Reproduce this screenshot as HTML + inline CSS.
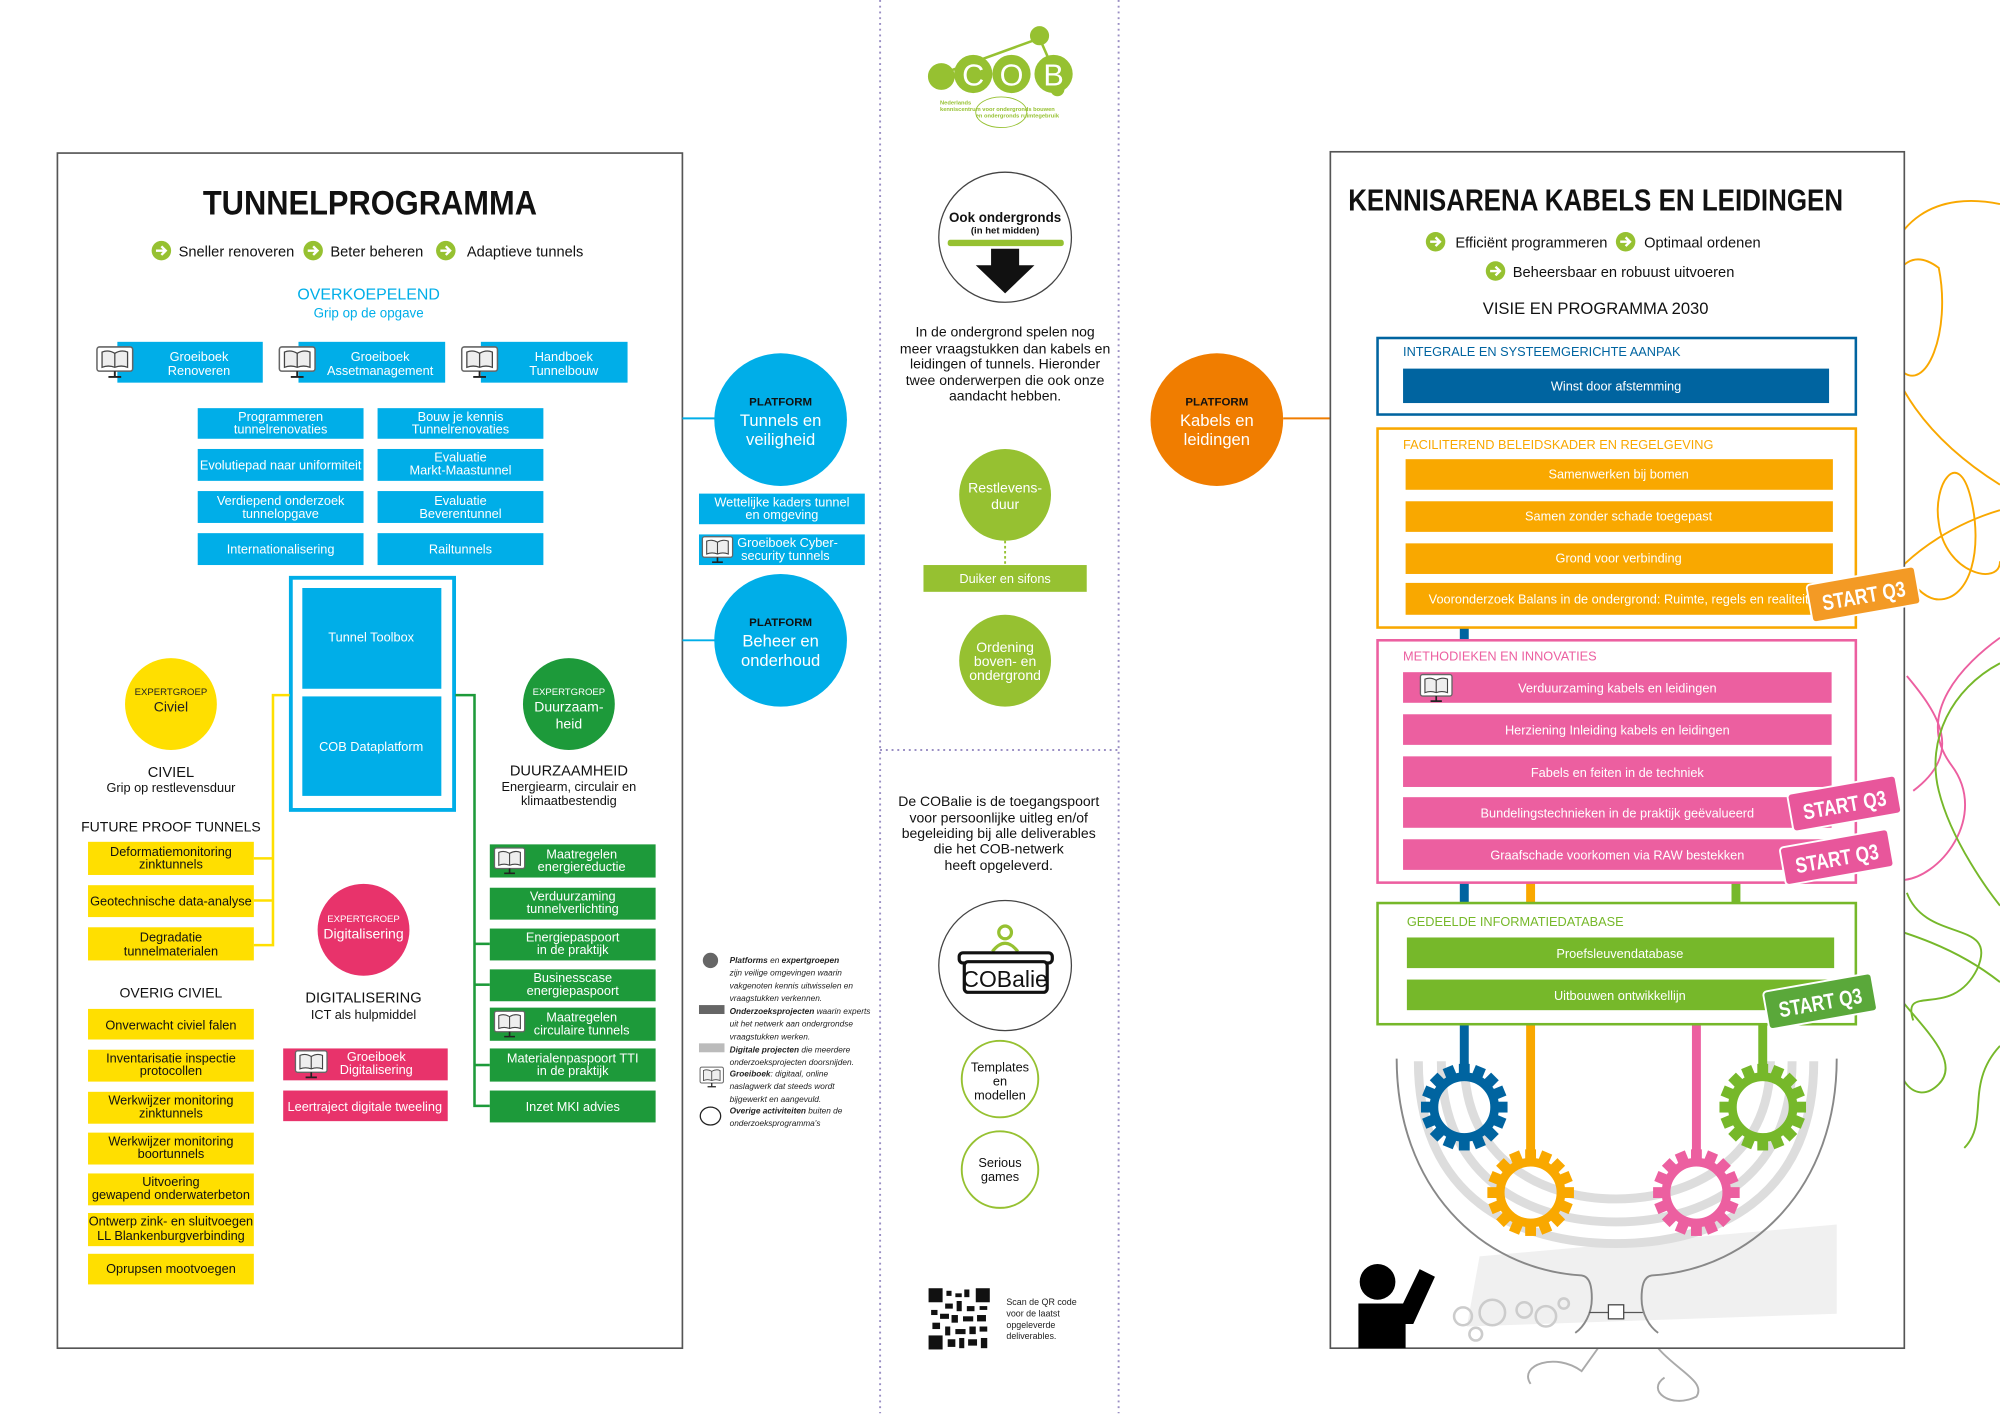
<!DOCTYPE html>
<html><head><meta charset="utf-8"><style>
html,body{margin:0;padding:0;background:#fff;}
svg{display:block;}
text{font-family:"Liberation Sans",sans-serif;}
.w{fill:#fff;font-size:10px;text-anchor:middle;}
.k{fill:#111;font-size:10px;text-anchor:middle;}
</style></head><body>
<svg width="2000" height="1414" viewBox="0 0 1568 1108.6" xmlns="http://www.w3.org/2000/svg">
<defs>
<symbol id="mon" viewBox="0 0 30 26">
<rect x="1" y="1" width="28" height="19" rx="2" fill="#fff" stroke="#666" stroke-width="1.2"/>
<path d="M5 5 Q10 3 15 6 Q20 3 25 5 V17 Q20 15 15 17 Q10 15 5 17Z" fill="#eee" stroke="#444" stroke-width="1"/>
<line x1="15" y1="6" x2="15" y2="17" stroke="#444"/>
<line x1="15" y1="20" x2="15" y2="24" stroke="#222" stroke-width="1.5"/>
<line x1="10" y1="24.5" x2="20" y2="24.5" stroke="#222" stroke-width="1.5"/>
</symbol>
<symbol id="arr" viewBox="0 0 20 20">
<circle cx="10" cy="10" r="9" fill="#96c131"/>
<path d="M5 10 H14 M10 6 L14 10 L10 14" stroke="#fff" stroke-width="2.2" fill="none"/>
</symbol>
<symbol id="gear" viewBox="-40 -40 80 80">
<g fill="none" stroke-width="8">
<circle r="28"/>
</g>
<g stroke="none">
<rect x="-5" y="-40" width="10" height="10"/><rect x="-5" y="30" width="10" height="10"/>
<rect x="-40" y="-5" width="10" height="10"/><rect x="30" y="-5" width="10" height="10"/>
<g transform="rotate(45)"><rect x="-5" y="-40" width="10" height="10"/><rect x="-5" y="30" width="10" height="10"/><rect x="-40" y="-5" width="10" height="10"/><rect x="30" y="-5" width="10" height="10"/></g>
<g transform="rotate(22.5)"><rect x="-5" y="-40" width="10" height="10"/><rect x="-5" y="30" width="10" height="10"/><rect x="-40" y="-5" width="10" height="10"/><rect x="30" y="-5" width="10" height="10"/></g>
<g transform="rotate(67.5)"><rect x="-5" y="-40" width="10" height="10"/><rect x="-5" y="30" width="10" height="10"/><rect x="-40" y="-5" width="10" height="10"/><rect x="30" y="-5" width="10" height="10"/></g>
</g>
</symbol>
</defs>

<!-- dotted separators -->
<line x1="690" y1="0" x2="690" y2="1108" stroke="#9a8fc4" stroke-width="1.5" stroke-dasharray="1.5 3"/>
<line x1="877" y1="0" x2="877" y2="1108" stroke="#9a8fc4" stroke-width="1.5" stroke-dasharray="1.5 3"/>
<line x1="690" y1="588" x2="877" y2="588" stroke="#9a8fc4" stroke-width="1.5" stroke-dasharray="1.5 3"/>

<!-- ============ LEFT PANEL ============ -->
<rect x="45" y="120" width="490" height="937" fill="none" stroke="#555" stroke-width="1.3"/>
<text x="290" y="168" text-anchor="middle" font-size="27" font-weight="bold" fill="#111" textLength="262" lengthAdjust="spacingAndGlyphs">TUNNELPROGRAMMA</text>
<use href="#arr" x="118" y="188" width="17" height="17"/><text x="140" y="201" font-size="11.5" fill="#111">Sneller renoveren</text>
<use href="#arr" x="237" y="188" width="17" height="17"/><text x="259" y="201" font-size="11.5" fill="#111">Beter beheren</text>
<use href="#arr" x="341" y="188" width="17" height="17"/><text x="366" y="201" font-size="11.5" fill="#111">Adaptieve tunnels</text>
<text x="289" y="235" text-anchor="middle" font-size="12.5" fill="#00aee8">OVERKOEPELEND</text>
<text x="289" y="249" text-anchor="middle" font-size="10.5" fill="#00aee8">Grip op de opgave</text>

<g fill="#00aee8">
<rect x="92" y="268" width="114" height="32"/><rect x="234" y="268" width="115" height="32"/><rect x="377" y="268" width="115" height="32"/>
</g>
<use href="#mon" x="75" y="271" width="30" height="26"/>
<use href="#mon" x="218" y="271" width="30" height="26"/>
<use href="#mon" x="361" y="271" width="30" height="26"/>
<text class="w" x="156" y="283">Groeiboek<tspan x="156" dy="11">Renoveren</tspan></text>
<text class="w" x="298" y="283">Groeiboek<tspan x="298" dy="11">Assetmanagement</tspan></text>
<text class="w" x="442" y="283">Handboek<tspan x="442" dy="11">Tunnelbouw</tspan></text>

<g fill="#00aee8">
<rect x="155" y="320" width="130" height="24"/><rect x="296" y="320" width="130" height="24"/>
<rect x="155" y="352" width="130" height="25"/><rect x="296" y="352" width="130" height="25"/>
<rect x="155" y="385" width="130" height="25"/><rect x="296" y="385" width="130" height="25"/>
<rect x="155" y="418" width="130" height="25"/><rect x="296" y="418" width="130" height="25"/>
</g>
<text class="w" x="220" y="330">Programmeren<tspan x="220" dy="10">tunnelrenovaties</tspan></text>
<text class="w" x="361" y="330">Bouw je kennis<tspan x="361" dy="10">Tunnelrenovaties</tspan></text>
<text class="w" x="220" y="368">Evolutiepad naar uniformiteit</text>
<text class="w" x="361" y="362">Evaluatie<tspan x="361" dy="10">Markt-Maastunnel</tspan></text>
<text class="w" x="220" y="396">Verdiepend onderzoek<tspan x="220" dy="10">tunnelopgave</tspan></text>
<text class="w" x="361" y="396">Evaluatie<tspan x="361" dy="10">Beverentunnel</tspan></text>
<text class="w" x="220" y="434">Internationalisering</text>
<text class="w" x="361" y="434">Railtunnels</text>

<rect x="228" y="453" width="128" height="182" fill="none" stroke="#00aee8" stroke-width="3"/>
<rect x="237" y="461" width="109" height="79" fill="#00aee8"/>
<rect x="237" y="546" width="109" height="78" fill="#00aee8"/>
<text class="w" x="291" y="503">Tunnel Toolbox</text>
<text class="w" x="291" y="589">COB Dataplatform</text>

<g stroke="#ffdf00" stroke-width="2" fill="none">
<path d="M227 545 H214 V741 H199"/><path d="M199 673 H214"/><path d="M199 706 H214"/>
</g>
<g stroke="#1d9a3a" stroke-width="2" fill="none">
<path d="M357 545 H372 V867 H384"/><path d="M372 740 H384"/><path d="M372 772 H384"/><path d="M372 835 H384"/>
</g>

<circle cx="134" cy="552" r="36" fill="#ffdf00"/>
<text x="134" y="545" text-anchor="middle" font-size="7.5" fill="#222">EXPERTGROEP</text>
<text x="134" y="558" text-anchor="middle" font-size="11" fill="#222">Civiel</text>
<text x="134" y="609" text-anchor="middle" font-size="11.5" fill="#111">CIVIEL</text>
<text x="134" y="621" text-anchor="middle" font-size="10" fill="#111">Grip op restlevensduur</text>
<text x="134" y="652" text-anchor="middle" font-size="11" fill="#111">FUTURE PROOF TUNNELS</text>

<g fill="#ffdf00">
<rect x="69" y="660" width="130" height="26"/><rect x="69" y="694" width="130" height="25"/><rect x="69" y="727" width="130" height="26"/>
<rect x="69" y="791" width="130" height="24"/><rect x="69" y="823" width="130" height="25"/><rect x="69" y="856" width="130" height="25"/>
<rect x="69" y="888" width="130" height="25"/><rect x="69" y="920" width="130" height="25"/><rect x="69" y="951" width="130" height="26"/>
<rect x="69" y="983" width="130" height="24"/>
</g>
<text class="k" x="134" y="671">Deformatiemonitoring<tspan x="134" dy="10">zinktunnels</tspan></text>
<text class="k" x="134" y="710">Geotechnische data-analyse</text>
<text class="k" x="134" y="738">Degradatie<tspan x="134" dy="11">tunnelmaterialen</tspan></text>
<text x="134" y="782" text-anchor="middle" font-size="11" fill="#111">OVERIG CIVIEL</text>
<text class="k" x="134" y="807">Onverwacht civiel falen</text>
<text class="k" x="134" y="833">Inventarisatie inspectie<tspan x="134" dy="10">protocollen</tspan></text>
<text class="k" x="134" y="866">Werkwijzer monitoring<tspan x="134" dy="10">zinktunnels</tspan></text>
<text class="k" x="134" y="898">Werkwijzer monitoring<tspan x="134" dy="10">boortunnels</tspan></text>
<text class="k" x="134" y="930">Uitvoering<tspan x="134" dy="10">gewapend onderwaterbeton</tspan></text>
<text class="k" x="134" y="961">Ontwerp zink- en sluitvoegen<tspan x="134" dy="11">LL Blankenburgverbinding</tspan></text>
<text class="k" x="134" y="998">Oprupsen mootvoegen</text>

<circle cx="285" cy="729" r="36" fill="#e8336b"/>
<text x="285" y="723" text-anchor="middle" font-size="7.5" fill="#fff">EXPERTGROEP</text>
<text x="285" y="736" text-anchor="middle" font-size="11" fill="#fff">Digitalisering</text>
<text x="285" y="786" text-anchor="middle" font-size="11.5" fill="#111">DIGITALISERING</text>
<text x="285" y="799" text-anchor="middle" font-size="10" fill="#111">ICT als hulpmiddel</text>
<rect x="222" y="822" width="129" height="25" fill="#e8336b"/>
<rect x="222" y="855" width="129" height="24" fill="#e8336b"/>
<use href="#mon" x="230" y="823" width="28" height="23"/>
<text class="w" x="295" y="832">Groeiboek<tspan x="295" dy="10">Digitalisering</tspan></text>
<text class="w" x="286" y="871">Leertraject digitale tweeling</text>

<circle cx="446" cy="552" r="36" fill="#1d9a3a"/>
<text x="446" y="545" text-anchor="middle" font-size="7.5" fill="#fff">EXPERTGROEP</text>
<text x="446" y="558" text-anchor="middle" font-size="11" fill="#fff">Duurzaam-<tspan x="446" dy="13">heid</tspan></text>
<text x="446" y="608" text-anchor="middle" font-size="11.5" fill="#111">DUURZAAMHEID</text>
<text x="446" y="620" text-anchor="middle" font-size="10" fill="#111">Energiearm, circulair en<tspan x="446" dy="11">klimaatbestendig</tspan></text>

<g fill="#1d9a3a">
<rect x="384" y="662" width="130" height="26"/><rect x="384" y="696" width="130" height="25"/><rect x="384" y="728" width="130" height="25"/>
<rect x="384" y="760" width="130" height="25"/><rect x="384" y="790" width="130" height="26"/><rect x="384" y="822" width="130" height="26"/>
<rect x="384" y="855" width="130" height="25"/>
</g>
<use href="#mon" x="386" y="664" width="27" height="22"/>
<use href="#mon" x="386" y="792" width="27" height="22"/>
<text class="w" x="456" y="673">Maatregelen<tspan x="456" dy="10">energiereductie</tspan></text>
<text class="w" x="449" y="706">Verduurzaming<tspan x="449" dy="10">tunnelverlichting</tspan></text>
<text class="w" x="449" y="738">Energiepaspoort<tspan x="449" dy="10">in de praktijk</tspan></text>
<text class="w" x="449" y="770">Businesscase<tspan x="449" dy="10">energiepaspoort</tspan></text>
<text class="w" x="456" y="801">Maatregelen<tspan x="456" dy="10">circulaire tunnels</tspan></text>
<text class="w" x="449" y="833">Materialenpaspoort TTI<tspan x="449" dy="10">in de praktijk</tspan></text>
<text class="w" x="449" y="871">Inzet MKI advies</text>

<line x1="535" y1="328" x2="562" y2="328" stroke="#00aee8" stroke-width="1.5"/>
<line x1="535" y1="502" x2="562" y2="502" stroke="#00aee8" stroke-width="1.5"/>
<circle cx="612" cy="329" r="52" fill="#00aee8"/>
<text x="612" y="318" text-anchor="middle" font-size="9" font-weight="bold" fill="#111">PLATFORM</text>
<text x="612" y="334" text-anchor="middle" font-size="13" fill="#fff">Tunnels en<tspan x="612" dy="15">veiligheid</tspan></text>
<circle cx="612" cy="502" r="52" fill="#00aee8"/>
<text x="612" y="491" text-anchor="middle" font-size="9" font-weight="bold" fill="#111">PLATFORM</text>
<text x="612" y="507" text-anchor="middle" font-size="13" fill="#fff">Beheer en<tspan x="612" dy="15">onderhoud</tspan></text>
<rect x="548" y="387" width="130" height="24" fill="#00aee8"/>
<rect x="548" y="419" width="130" height="24" fill="#00aee8"/>
<text class="w" x="613" y="397">Wettelijke kaders tunnel<tspan x="613" dy="10">en omgeving</tspan></text>
<use href="#mon" x="549" y="420" width="27" height="22"/>
<text x="578" y="429" font-size="10" fill="#fff">Groeiboek Cyber-<tspan x="581" dy="10">security tunnels</tspan></text>

<g font-size="6.5" font-style="italic" fill="#222">
<circle cx="557" cy="753" r="6" fill="#666"/>
<text x="572" y="755"><tspan font-weight="bold">Platforms</tspan> en <tspan font-weight="bold">expertgroepen</tspan><tspan x="572" dy="10">zijn veilige omgevingen waarin</tspan><tspan x="572" dy="10">vakgenoten kennis uitwisselen en</tspan><tspan x="572" dy="10">vraagstukken verkennen.</tspan></text>
<rect x="548" y="788" width="20" height="7" fill="#666"/>
<text x="572" y="795"><tspan font-weight="bold">Onderzoeksprojecten</tspan> waarin experts<tspan x="572" dy="10">uit het netwerk aan ondergrondse</tspan><tspan x="572" dy="10">vraagstukken werken.</tspan></text>
<rect x="548" y="818" width="20" height="7" fill="#bbb"/>
<text x="572" y="825"><tspan font-weight="bold">Digitale projecten</tspan> die meerdere<tspan x="572" dy="10">onderzoeksprojecten doorsnijden.</tspan></text>
<use href="#mon" x="548" y="836" width="20" height="17"/>
<text x="572" y="844"><tspan font-weight="bold">Groeiboek</tspan>: digitaal, online<tspan x="572" dy="10">naslagwerk dat steeds wordt</tspan><tspan x="572" dy="10">bijgewerkt en aangevuld.</tspan></text>
<ellipse cx="557" cy="875" rx="8" ry="7" fill="none" stroke="#222" stroke-width="1"/>
<text x="572" y="873"><tspan font-weight="bold">Overige activiteiten</tspan> buiten de<tspan x="572" dy="10">onderzoeksprogramma's</tspan></text>
</g>

<!-- ============ MIDDLE ============ -->
<g fill="#96c131" stroke="#96c131">
<line x1="738" y1="58" x2="815" y2="30" stroke-width="2"/>
<line x1="815" y1="30" x2="830" y2="64" stroke-width="2"/>
<circle cx="738" cy="60" r="10"/><circle cx="815" cy="28" r="7"/><circle cx="829" cy="70" r="5"/>
</g>
<circle cx="763" cy="58" r="15" fill="#96c131"/><circle cx="793" cy="58" r="15" fill="#96c131"/><circle cx="826" cy="58" r="15" fill="#96c131"/>
<text x="763" y="67" text-anchor="middle" font-size="24" fill="#fff">C</text>
<text x="793" y="67" text-anchor="middle" font-size="24" fill="#fff">O</text>
<text x="826" y="67" text-anchor="middle" font-size="24" fill="#fff">B</text>
<text x="737" y="82" font-size="4.5" font-weight="bold" fill="#96c131">Nederlands<tspan x="737" dy="5">kenniscentrum voor ondergronds bouwen</tspan><tspan x="765" dy="5">en ondergronds ruimtegebruik</tspan></text>
<ellipse cx="785" cy="88" rx="20" ry="12" fill="none" stroke="#96c131" stroke-width="0.7"/>

<ellipse cx="788" cy="186" rx="52" ry="51" fill="#fff" stroke="#444" stroke-width="1"/>
<text x="788" y="174" text-anchor="middle" font-size="10.5" font-weight="bold" fill="#111">Ook ondergronds</text>
<text x="788" y="183" text-anchor="middle" font-size="7.5" font-weight="bold" fill="#111">(in het midden)</text>
<rect x="743" y="188" width="91" height="5" rx="2" fill="#96c131"/>
<path d="M777 195 H799 V208 H811 L788 230 L765 208 H777Z" fill="#111"/>
<g font-size="11" fill="#111" text-anchor="middle">
<text x="788" y="264">In de ondergrond spelen nog</text>
<text x="788" y="277">meer vraagstukken dan kabels en</text>
<text x="788" y="289">leidingen of tunnels. Hieronder</text>
<text x="788" y="302">twee onderwerpen die ook onze</text>
<text x="788" y="314">aandacht hebben.</text>
</g>
<circle cx="788" cy="388" r="36" fill="#96c131"/>
<text x="788" y="386" text-anchor="middle" font-size="11" fill="#fff">Restlevens-<tspan x="788" dy="13">duur</tspan></text>
<line x1="788" y1="424" x2="788" y2="443" stroke="#96c131" stroke-width="1.5" stroke-dasharray="2 2"/>
<rect x="724" y="443" width="128" height="21" fill="#96c131"/>
<text class="w" x="788" y="457">Duiker en sifons</text>
<circle cx="788" cy="518" r="36" fill="#96c131"/>
<text x="788" y="511" text-anchor="middle" font-size="11" fill="#fff">Ordening<tspan x="788" dy="11">boven- en</tspan><tspan x="788" dy="11">ondergrond</tspan></text>

<g font-size="11" fill="#111" text-anchor="middle">
<text x="783" y="632">De COBalie is de toegangspoort</text>
<text x="783" y="645">voor persoonlijke uitleg en/of</text>
<text x="783" y="657">begeleiding bij alle deliverables</text>
<text x="783" y="669">die het COB-netwerk</text>
<text x="783" y="682">heeft opgeleverd.</text>
</g>
<ellipse cx="788" cy="757" rx="52" ry="51" fill="#fff" stroke="#444" stroke-width="1"/>
<circle cx="788" cy="731" r="5" fill="none" stroke="#96c131" stroke-width="2.5"/>
<path d="M778 746 Q788 733 798 746" fill="none" stroke="#96c131" stroke-width="2.5"/>
<rect x="752" y="747" width="73" height="8" rx="3" fill="#fff" stroke="#111" stroke-width="2.5"/>
<rect x="756" y="754" width="65" height="24" rx="3" fill="#fff" stroke="#111" stroke-width="2.5"/>
<text x="788" y="774" text-anchor="middle" font-size="18" fill="#111">COBalie</text>
<circle cx="784" cy="846" r="30" fill="#fff" stroke="#96c131" stroke-width="1.5"/>
<text x="784" y="840" text-anchor="middle" font-size="10" fill="#111">Templates<tspan x="784" dy="11">en</tspan><tspan x="784" dy="11">modellen</tspan></text>
<circle cx="784" cy="917" r="30" fill="#fff" stroke="#96c131" stroke-width="1.5"/>
<text x="784" y="915" text-anchor="middle" font-size="10" fill="#111">Serious<tspan x="784" dy="11">games</tspan></text>
<g fill="#111">
<rect x="728" y="1010" width="48" height="48" fill="#fff"/>
<rect x="728" y="1010" width="11" height="11"/><rect x="765" y="1010" width="11" height="11"/><rect x="728" y="1047" width="11" height="11"/>
<rect x="742" y="1012" width="4" height="4"/><rect x="749" y="1014" width="5" height="3"/><rect x="756" y="1011" width="4" height="6"/>
<rect x="741" y="1022" width="6" height="4"/><rect x="750" y="1020" width="4" height="8"/><rect x="758" y="1024" width="6" height="4"/><rect x="768" y="1024" width="6" height="3"/>
<rect x="730" y="1027" width="5" height="4"/><rect x="737" y="1030" width="7" height="4"/><rect x="746" y="1031" width="5" height="6"/><rect x="755" y="1032" width="8" height="4"/><rect x="766" y="1031" width="7" height="5"/>
<rect x="731" y="1037" width="6" height="5"/><rect x="741" y="1040" width="4" height="7"/><rect x="749" y="1042" width="8" height="4"/><rect x="760" y="1040" width="5" height="6"/><rect x="768" y="1040" width="6" height="4"/>
<rect x="743" y="1050" width="6" height="6"/><rect x="752" y="1049" width="4" height="8"/><rect x="759" y="1050" width="7" height="5"/><rect x="769" y="1049" width="5" height="8"/>
</g>
<text x="789" y="1023" font-size="7" fill="#222">Scan de QR code<tspan x="789" dy="9">voor de laatst</tspan><tspan x="789" dy="9">opgeleverde</tspan><tspan x="789" dy="9">deliverables.</tspan></text>

<!-- ============ RIGHT ============ -->
<line x1="1006" y1="328" x2="1043" y2="328" stroke="#f07d00" stroke-width="1.5"/>
<circle cx="954" cy="329" r="52" fill="#f07d00"/>
<text x="954" y="318" text-anchor="middle" font-size="9" font-weight="bold" fill="#111">PLATFORM</text>
<text x="954" y="334" text-anchor="middle" font-size="13" fill="#fff">Kabels en<tspan x="954" dy="15">leidingen</tspan></text>

<g fill="none" stroke-width="1.5">
<path d="M1568 160 C1520 150 1480 170 1475 230 C1470 300 1520 350 1568 380 M1568 400 C1500 420 1440 480 1460 540" stroke="#f9a800"/>
<path d="M1520 210 C1480 180 1470 260 1490 290 C1510 310 1530 260 1520 210Z" stroke="#f9a800"/>
<path d="M1455 380 C1480 430 1500 470 1520 470 C1545 470 1555 430 1545 390 C1535 350 1515 380 1520 410 C1525 450 1568 460 1568 440" stroke="#f9a800"/>
<path d="M1568 500 C1540 520 1500 560 1530 600 C1560 640 1520 690 1490 690 M1495 530 C1520 560 1540 590 1500 620" stroke="#ec5fa0"/>
<path d="M1568 520 C1530 540 1510 580 1520 620 C1530 660 1560 700 1568 710 M1495 700 C1510 740 1568 720 1550 760 C1530 800 1490 770 1500 800" stroke="#76b82a"/>
<path d="M1455 720 C1490 730 1530 740 1568 770 M1480 770 C1500 800 1540 830 1520 850 C1500 870 1480 840 1490 810 M1568 820 C1540 850 1560 880 1540 900" stroke="#76b82a"/>
<path d="M1200 1085 C1190 1070 1220 1060 1240 1075 L1265 1040 M1290 1040 C1300 1070 1340 1080 1330 1095 C1310 1105 1290 1090 1305 1080" stroke="#aaa"/>
</g>

<rect x="1043" y="119" width="450" height="938" fill="#fff" stroke="#555" stroke-width="1.3"/>
<text x="1251" y="165" text-anchor="middle" font-size="24" font-weight="bold" fill="#111" textLength="388" lengthAdjust="spacingAndGlyphs">KENNISARENA KABELS EN LEIDINGEN</text>
<use href="#arr" x="1117" y="181" width="17" height="17"/><text x="1141" y="194" font-size="11.5" fill="#111">Efficiënt programmeren</text>
<use href="#arr" x="1266" y="181" width="17" height="17"/><text x="1289" y="194" font-size="11.5" fill="#111">Optimaal ordenen</text>
<use href="#arr" x="1164" y="204" width="17" height="17"/><text x="1186" y="217" font-size="11.5" fill="#111">Beheersbaar en robuust uitvoeren</text>
<text x="1251" y="246" text-anchor="middle" font-size="13" fill="#111">VISIE EN PROGRAMMA 2030</text>

<!-- bowl & gears -->
<polygon points="1160,985 1440,960 1440,1030 1150,1040" fill="#f0f0f0"/>
<g fill="none" stroke="#ddd" stroke-width="7">
<path d="M1112 832 C1112 940 1190 975 1267 975 C1344 975 1422 940 1422 832"/>
<path d="M1130 832 C1130 925 1200 958 1267 958 C1334 958 1405 925 1405 832"/>
<path d="M1148 832 C1148 910 1210 940 1267 940 C1324 940 1388 910 1388 832"/>
</g>
<path d="M1095 830 C1095 930 1160 995 1240 1000 C1247 1001 1248 1010 1248 1018 C1248 1030 1242 1040 1235 1045" fill="none" stroke="#888" stroke-width="1.5"/>
<path d="M1440 830 C1440 930 1375 995 1295 1000 C1288 1001 1287 1010 1287 1018 C1287 1030 1293 1040 1300 1045" fill="none" stroke="#888" stroke-width="1.5"/>
<g stroke-width="7">
<line x1="1148" y1="492" x2="1148" y2="502" stroke="#0064a0"/>
<line x1="1148" y1="692" x2="1148" y2="708" stroke="#0064a0"/>
<line x1="1148" y1="803" x2="1148" y2="840" stroke="#0064a0"/>
<line x1="1200" y1="692" x2="1200" y2="708" stroke="#f9a800"/>
<line x1="1200" y1="803" x2="1200" y2="905" stroke="#f9a800"/>
<line x1="1330" y1="803" x2="1330" y2="905" stroke="#ec5fa0"/>
<line x1="1361" y1="692" x2="1361" y2="708" stroke="#76b82a"/>
<line x1="1382" y1="803" x2="1382" y2="840" stroke="#76b82a"/>
</g>
<use href="#gear" x="1114" y="834" width="68" height="68" fill="#0064a0" stroke="#0064a0"/>
<use href="#gear" x="1166" y="901" width="68" height="68" fill="#f9a800" stroke="#f9a800"/>
<use href="#gear" x="1296" y="901" width="68" height="68" fill="#ec5fa0" stroke="#ec5fa0"/>
<use href="#gear" x="1348" y="834" width="68" height="68" fill="#76b82a" stroke="#76b82a"/>
<g fill="none" stroke="#ccc" stroke-width="2">
<circle cx="1147" cy="1032" r="7"/><circle cx="1170" cy="1029" r="10"/><circle cx="1195" cy="1027" r="6"/><circle cx="1212" cy="1032" r="8"/><circle cx="1157" cy="1046" r="5"/><circle cx="1226" cy="1022" r="4"/>
</g>
<line x1="1246" y1="1029" x2="1288" y2="1029" stroke="#555" stroke-width="1"/>
<rect x="1261" y="1023" width="12" height="11" fill="#fff" stroke="#444" stroke-width="1"/>
<circle cx="1080" cy="1005" r="14" fill="#000"/>
<path d="M1065 1022 H1100 L1113 995 L1125 1001 L1108 1038 H1102 V1057 H1065Z" fill="#000"/>

<rect x="1080" y="265" width="375" height="60" fill="#fff" stroke="#0064a0" stroke-width="2"/>
<text x="1100" y="279" font-size="10" fill="#0064a0">INTEGRALE EN SYSTEEMGERICHTE AANPAK</text>
<rect x="1100" y="289" width="334" height="27" fill="#0064a0"/>
<text class="w" x="1267" y="306">Winst door afstemming</text>

<rect x="1080" y="336" width="375" height="156" fill="#fff" stroke="#f9a800" stroke-width="2"/>
<text x="1100" y="352" font-size="10" fill="#f9a800">FACILITEREND BELEIDSKADER EN REGELGEVING</text>
<g fill="#f9a800"><rect x="1102" y="360" width="335" height="24"/><rect x="1102" y="393" width="335" height="24"/><rect x="1102" y="426" width="335" height="24"/><rect x="1102" y="457" width="335" height="25"/></g>
<text class="w" x="1269" y="375">Samenwerken bij bomen</text>
<text class="w" x="1269" y="408">Samen zonder schade toegepast</text>
<text class="w" x="1269" y="441">Grond voor verbinding</text>
<text class="w" x="1269" y="473">Vooronderzoek Balans in de ondergrond: Ruimte, regels en realiteit</text>

<rect x="1080" y="502" width="375" height="190" fill="#fff" stroke="#ec5fa0" stroke-width="2"/>
<text x="1100" y="518" font-size="10" fill="#ec5fa0">METHODIEKEN EN INNOVATIES</text>
<g fill="#ec5fa0"><rect x="1100" y="527" width="336" height="24"/><rect x="1100" y="560" width="336" height="24"/><rect x="1100" y="593" width="336" height="24"/><rect x="1100" y="625" width="336" height="24"/><rect x="1100" y="658" width="336" height="24"/></g>
<use href="#mon" x="1112" y="528" width="28" height="23"/>
<text class="w" x="1268" y="543">Verduurzaming kabels en leidingen</text>
<text class="w" x="1268" y="576">Herziening Inleiding kabels en leidingen</text>
<text class="w" x="1268" y="609">Fabels en feiten in de techniek</text>
<text class="w" x="1268" y="641">Bundelingstechnieken in de praktijk geëvalueerd</text>
<text class="w" x="1268" y="674">Graafschade voorkomen via RAW bestekken</text>

<rect x="1080" y="708" width="375" height="95" fill="#fff" stroke="#76b82a" stroke-width="2"/>
<text x="1103" y="726" font-size="10" fill="#76b82a">GEDEELDE INFORMATIEDATABASE</text>
<g fill="#76b82a"><rect x="1103" y="735" width="335" height="24"/><rect x="1103" y="768" width="335" height="24"/></g>
<text class="w" x="1270" y="751">Proefsleuvendatabase</text>
<text class="w" x="1270" y="784">Uitbouwen ontwikkellijn</text>

<g font-size="17" font-weight="bold" fill="#fff" text-anchor="middle">
<g transform="translate(1461,466) rotate(-10)"><rect x="-43" y="-15" width="86" height="30" rx="3" fill="#f39a25" stroke="#fff" stroke-width="1.5"/><text x="0" y="7" textLength="66" lengthAdjust="spacingAndGlyphs">START Q3</text></g>
<g transform="translate(1446,630) rotate(-10)"><rect x="-43" y="-15" width="86" height="30" rx="3" fill="#e8569b" stroke="#fff" stroke-width="1.5"/><text x="0" y="7" textLength="66" lengthAdjust="spacingAndGlyphs">START Q3</text></g>
<g transform="translate(1440,672) rotate(-10)"><rect x="-43" y="-15" width="86" height="30" rx="3" fill="#e8569b" stroke="#fff" stroke-width="1.5"/><text x="0" y="7" textLength="66" lengthAdjust="spacingAndGlyphs">START Q3</text></g>
<g transform="translate(1427,785) rotate(-10)"><rect x="-43" y="-15" width="86" height="30" rx="3" fill="#5aa83a" stroke="#fff" stroke-width="1.5"/><text x="0" y="7" textLength="66" lengthAdjust="spacingAndGlyphs">START Q3</text></g>
</g>
</svg>
</body></html>
